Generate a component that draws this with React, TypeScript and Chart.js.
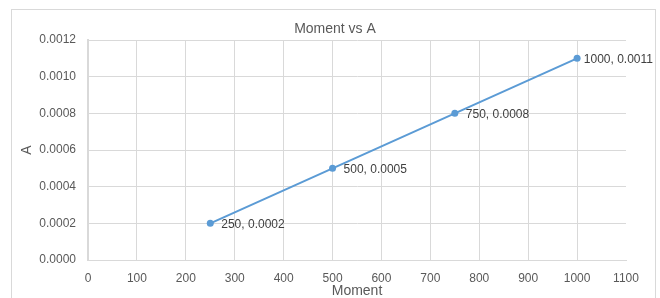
import React, { useEffect, useRef } from "react";
import { Chart, registerables } from "chart.js";

Chart.register(...registerables);

const chartTitle = "Moment vs A";
const xAxisTitle = "Moment";
const yAxisTitle = "A";
const moments = [250, 500, 750, 1000];
const aValues = [0.0002, 0.0005, 0.0008, 0.0011];
const pointLabels = ["250, 0.0002", "500, 0.0005", "750, 0.0008", "1000, 0.0011"];
const xMin = 0;
const xMax = 1100;
const xStep = 100;
const yMin = 0;
const yMax = 0.0012;
const yStep = 0.0002;

const FONT = "'Liberation Sans', Arial, sans-serif";
const TEXT = "#595959";
const GRID = "#d9d9d9";
const LINE = "#5b9bd5";

const titlePlugin = {
  id: "excelTitle",
  afterDraw(chart: any) {
    const ctx = chart.ctx;
    ctx.save();
    ctx.font = `14px ${FONT}`;
    ctx.fillStyle = TEXT;
    ctx.textAlign = "center";
    ctx.textBaseline = "middle";
    ctx.fillText(chartTitle, 335, 29);
    ctx.restore();
  },
};

const labelPlugin = {
  id: "pointLabels",
  afterDatasetsDraw(chart: any) {
    const ctx = chart.ctx;
    const meta = chart.getDatasetMeta(0);
    ctx.save();
    ctx.font = `12px ${FONT}`;
    ctx.fillStyle = "#404040";
    ctx.textAlign = "left";
    ctx.textBaseline = "middle";
    meta.data.forEach((el: any, i: number) => {
      const text = pointLabels[i];
      const w = ctx.measureText(text).width;
      let x = el.x + 11;
      const limit = chart.width - 7;
      if (x + w > limit) x = Math.max(el.x + 5, limit - w);
      ctx.fillText(text, x, el.y + 1);
    });
    ctx.restore();
  },
};

export default function App() {
  const ref = useRef<HTMLCanvasElement | null>(null);

  useEffect(() => {
    if (!ref.current) return;
    const chart = new Chart(ref.current, {
      type: "scatter",
      data: {
        datasets: [
          {
            label: yAxisTitle,
            data: moments.map((m, i) => ({ x: m, y: aValues[i] })),
            showLine: true,
            borderColor: LINE,
            backgroundColor: LINE,
            borderWidth: 2,
            pointRadius: 3.5,
            pointHoverRadius: 3.5,
            pointBorderWidth: 0,
          },
        ],
      },
      options: {
        animation: false,
        responsive: false,
        maintainAspectRatio: false,
        devicePixelRatio: 1,
        layout: { padding: { left: 19, right: 34, top: 40, bottom: 0 } },
        plugins: {
          legend: { display: false },
          title: { display: false },
          tooltip: { enabled: false },
        },
        scales: {
          x: {
            type: "linear",
            min: xMin,
            max: xMax,
            ticks: {
              stepSize: xStep,
              color: TEXT,
              font: { family: FONT, size: 12 },
              padding: 11,
              maxRotation: 0,
              callback: (v: any) => String(v),
            },
            grid: {
              color: (c: any) => (c.tick && c.tick.value === xMax ? "rgba(0,0,0,0)" : GRID),
              drawTicks: false,
              lineWidth: 1,
            },
            border: { display: true, color: GRID, width: 1 },
            title: {
              display: true,
              text: xAxisTitle,
              color: TEXT,
              font: { family: FONT, size: 14 },
              padding: { top: 0, bottom: 0 },
            },
            afterFit: (s: any) => {
              s.height = 40;
            },
          },
          y: {
            type: "linear",
            min: yMin,
            max: yMax,
            ticks: {
              stepSize: yStep,
              color: TEXT,
              font: { family: FONT, size: 12 },
              padding: 12,
              callback: (v: any) => Number(v).toFixed(4),
            },
            grid: { color: GRID, drawTicks: false, lineWidth: 1 },
            border: { display: true, color: GRID, width: 2 },
            title: {
              display: true,
              text: yAxisTitle,
              color: TEXT,
              font: { family: FONT, size: 14 },
              padding: { top: 0, bottom: 0 },
            },
            afterFit: (s: any) => {
              s.width = 69;
            },
          },
        },
      },
      plugins: [titlePlugin, labelPlugin],
    });
    return () => chart.destroy();
  }, []);

  return (
    <div
      style={{
        position: "fixed",
        left: 0,
        top: 0,
        width: 660,
        height: 298,
        overflow: "hidden",
        background: "#ffffff",
      }}
    >
      <div
        style={{
          position: "absolute",
          left: 11,
          top: 9,
          width: 645,
          height: 300,
          boxSizing: "border-box",
          border: `1px solid ${GRID}`,
        }}
      />
      <canvas
        ref={ref}
        width={660}
        height={300}
        style={{ position: "absolute", left: 0, top: 0, width: 660, height: 300 }}
      />
    </div>
  );
}
